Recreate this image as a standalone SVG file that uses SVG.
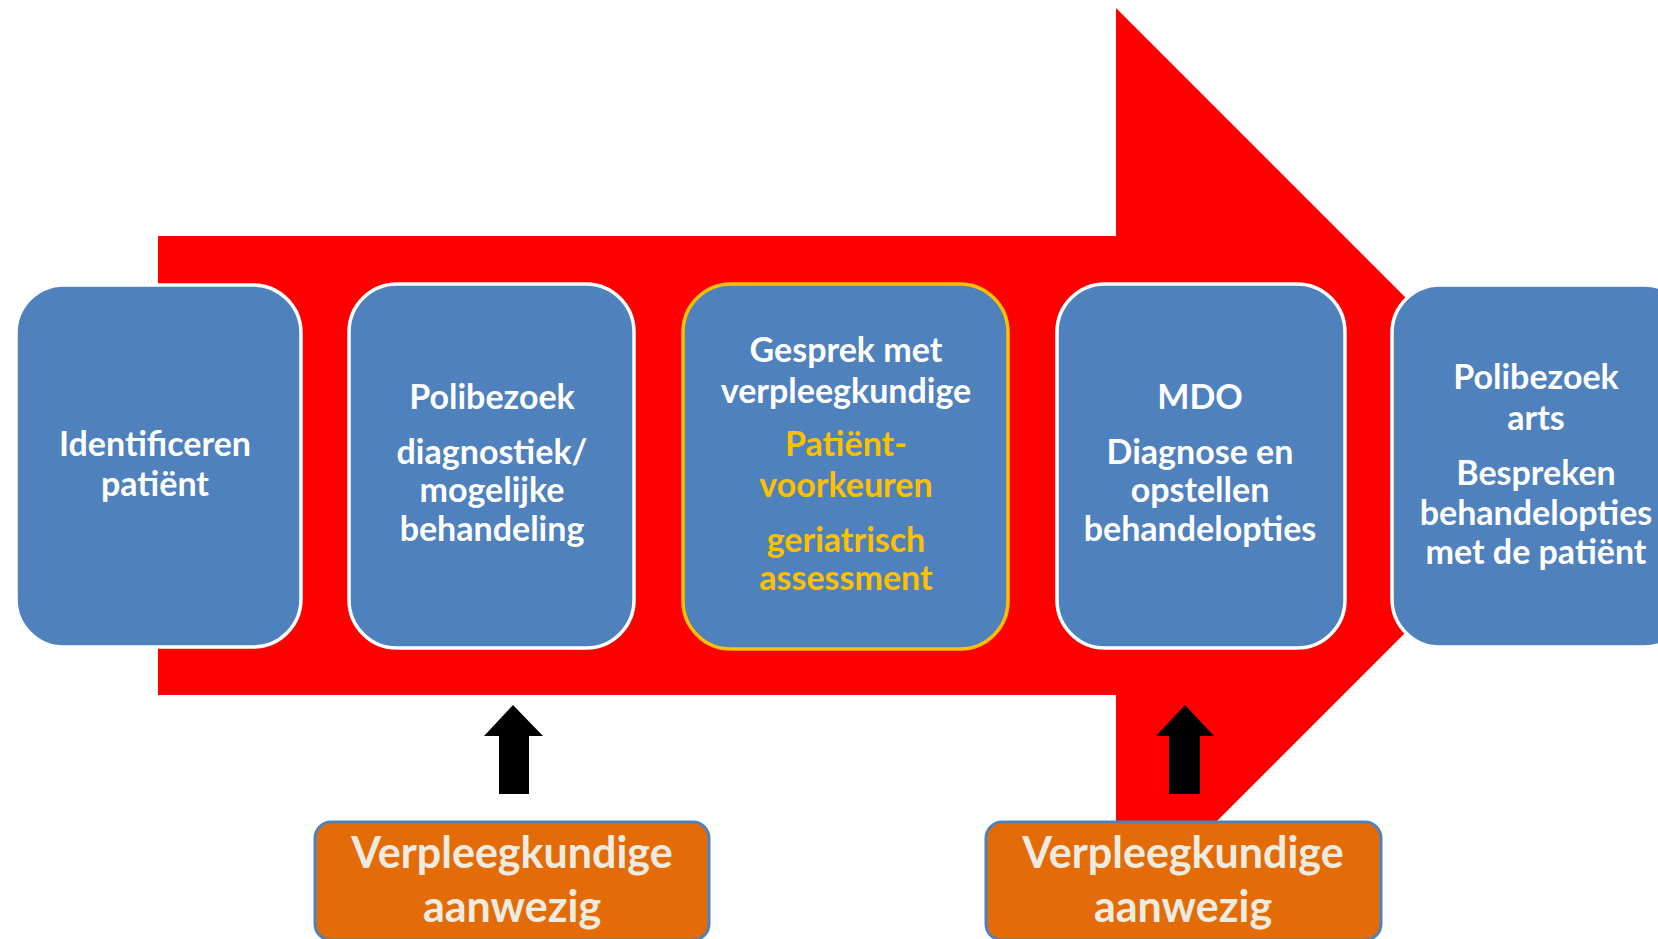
<svg xmlns="http://www.w3.org/2000/svg" width="1658" height="939" viewBox="0 0 1658 939">
<style>
.box{fill:#4F81BD;stroke:#FFFFFF;stroke-width:3.5}
.hl{stroke:#FFC000}
.t{font-family:Lato,"Open Sans","Liberation Sans",sans-serif;font-weight:bold;font-size:34px;fill:#FFFFFF;text-anchor:middle}
.y{fill:#FFC000}
.ob{fill:#E36C09;stroke:#4F81BD;stroke-width:3}
.ot{font-family:Lato,"Open Sans","Liberation Sans",sans-serif;font-weight:bold;font-size:43px;fill:#EEECE1;text-anchor:middle}
</style>
<rect width="1658" height="939" fill="#FFFFFF"/>
<g id="flow-arrow">
<polygon points="158,236 1116,236 1116,8 1573,465 1116,922 1116,695 158,695" fill="#FF0000"/>
</g>
<g id="node1">
<rect class="box" x="16" y="285" width="285" height="362" rx="48" stroke-width="2"/>
<text class="t" x="155" y="456">Identificeren</text>
<text class="t" x="155" y="496">patiënt</text>
</g>
<g id="node2">
<rect class="box" x="349" y="284" width="285" height="364" rx="48"/>
<text class="t" x="492" y="409">Polibezoek</text>
<text class="t" x="492" y="464">diagnostiek/</text>
<text class="t" x="492" y="502">mogelijke</text>
<text class="t" x="492" y="541">behandeling</text>
</g>
<g id="node3">
<rect class="box hl" x="683" y="284" width="325" height="365" rx="48"/>
<text class="t" x="846" y="362">Gesprek met</text>
<text class="t" x="846" y="403">verpleegkundige</text>
<text class="t y" x="846" y="456">Patiënt-</text>
<text class="t y" x="846" y="497">voorkeuren</text>
<text class="t y" x="846" y="552">geriatrisch</text>
<text class="t y" x="846" y="590">assessment</text>
</g>
<g id="node4">
<rect class="box" x="1057" y="284" width="288" height="364" rx="48"/>
<text class="t" x="1200" y="409">MDO</text>
<text class="t" x="1200" y="464">Diagnose en</text>
<text class="t" x="1200" y="502">opstellen</text>
<text class="t" x="1200" y="541">behandelopties</text>
</g>
<g id="node5">
<rect class="box" x="1392" y="285" width="300" height="362" rx="48" stroke-width="2.5"/>
<text class="t" x="1536" y="389">Polibezoek</text>
<text class="t" x="1536" y="430">arts</text>
<text class="t" x="1536" y="485">Bespreken</text>
<text class="t" x="1536" y="525">behandelopties</text>
<text class="t" x="1536" y="564">met de patiënt</text>
</g>
<g id="connectors">
<polygon points="513,705 543,736 529,736 529,794 499,794 499,736 484,736" fill="#000000"/>
<polygon points="1185,705 1214,736 1200,736 1200,794 1169,794 1169,736 1156,736" fill="#000000"/>
</g>
<g id="nurse1">
<rect class="ob" x="315" y="822" width="394" height="118" rx="16"/>
<text class="ot" x="512" y="868">Verpleegkundige</text>
<text class="ot" x="512" y="922">aanwezig</text>
</g>
<g id="nurse2">
<rect class="ob" x="986" y="822" width="395" height="118" rx="16"/>
<text class="ot" x="1183" y="868">Verpleegkundige</text>
<text class="ot" x="1183" y="922">aanwezig</text>
</g>
</svg>
